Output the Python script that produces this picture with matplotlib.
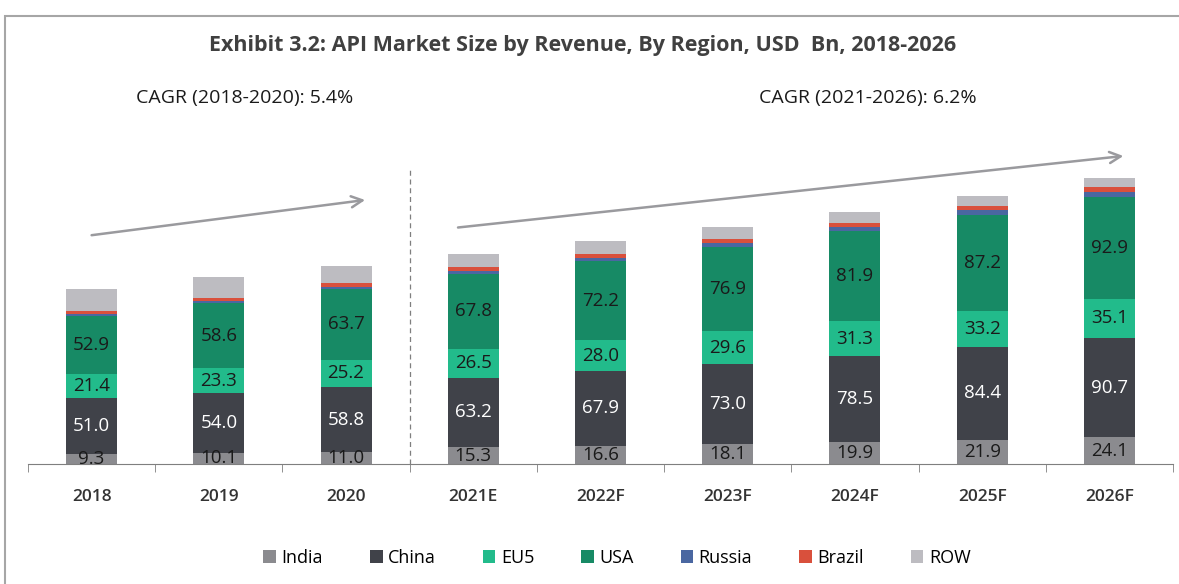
import matplotlib.pyplot as plt
import numpy as np
from matplotlib.patches import Rectangle

years = ["2018", "2019", "2020", "2021E", "2022F", "2023F", "2024F", "2025F", "2026F"]
india = [9.3, 10.1, 11.0, 15.3, 16.6, 18.1, 19.9, 21.9, 24.1]
china = [51.0, 54.0, 58.8, 63.2, 67.9, 73.0, 78.5, 84.4, 90.7]
eu5 = [21.4, 23.3, 25.2, 26.5, 28.0, 29.6, 31.3, 33.2, 35.1]
usa = [52.9, 58.6, 63.7, 67.8, 72.2, 76.9, 81.9, 87.2, 92.9]
russia = [1.8, 2.2, 2.5, 2.8, 3.0, 3.3, 3.5, 3.8, 4.1]
brazil = [2.4, 2.8, 3.6, 3.4, 3.6, 3.8, 4.1, 4.4, 4.7]
row = [20.5, 19.0, 15.5, 11.5, 11.2, 10.5, 9.5, 9.0, 8.5]

series = [("India", india, "#8b8b8f", "#1a1a1a"),
          ("China", china, "#404249", "white"),
          ("EU5", eu5, "#22bb8b", "#1a1a1a"),
          ("USA", usa, "#178a65", "#1a1a1a"),
          ("Russia", russia, "#4a67a1", None),
          ("Brazil", brazil, "#d9503c", None),
          ("ROW", row, "#bdbcc1", None)]

plt.rcParams["font.family"] = ["Open Sans", "DejaVu Sans"]

fig = plt.figure(figsize=(11.79, 5.84), dpi=100)
ax = fig.add_axes([28 / 1179, 120 / 584, 1145 / 1179, 363 / 584])

# outer frame
fig.patches.append(Rectangle((5 / 1179, -0.1), 1.2, (584 - 16) / 584 + 0.1,
                             transform=fig.transFigure, fill=False,
                             edgecolor="#a6a6a6", linewidth=1.5))

x = np.arange(len(years))
bottom = np.zeros(len(years))
for name, vals, color, txt in series:
    vals = np.array(vals)
    ax.bar(x, vals, width=0.4, bottom=bottom, color=color, label=name,
           edgecolor="none", zorder=2)
    if txt is not None:
        for xi, b, v in zip(x, bottom, vals):
            ax.text(xi, b + v / 2, f"{v:.1f}", ha="center", va="center",
                    fontsize=13.5, color=txt, zorder=4)
    bottom += vals

ax.set_xlim(-0.5, len(years) - 0.5)
ax.set_ylim(0, 330)
ax.set_yticks([])
for s in ["top", "right", "left"]:
    ax.spines[s].set_visible(False)
ax.spines["bottom"].set_color("#7f7f7f")
ax.spines["bottom"].set_zorder(3)
ax.set_xticks(x)
ax.set_xticklabels(years, fontsize=12.5, fontweight="semibold", color="#333333")
ax.tick_params(axis="x", which="major", length=0, pad=18)
ax.set_xticks(np.arange(-0.5, len(years)), minor=True)
ax.tick_params(axis="x", which="minor", length=6, color="#7f7f7f")

# period divider and trend arrows
ax.plot([2.5, 2.5], [0, 267], linestyle=(0, (4, 3)), color="#7f7f7f",
        linewidth=0.9, zorder=1)
arrow = dict(arrowstyle="->,head_length=0.8,head_width=0.4", color="#9a9a9e",
             linewidth=1.8, shrinkA=0, shrinkB=0)
ax.annotate("", xy=(2.15, 240), xytext=(0.0, 208), arrowprops=arrow)
ax.annotate("", xy=(8.11, 280), xytext=(2.88, 215), arrowprops=arrow)

fig.text(583 / 1179, 1 - 46 / 584,
         "Exhibit 3.2: API Market Size by Revenue, By Region, USD  Bn, 2018-2026",
         ha="center", va="center", fontsize=15.5,
         fontweight="bold", color="#404040")
fig.text(245 / 1179, 1 - 98 / 584, "CAGR (2018-2020): 5.4%", ha="center",
         va="center", fontsize=14, color="#1a1a1a")
fig.text(868 / 1179, 1 - 98 / 584, "CAGR (2021-2026): 6.2%", ha="center",
         va="center", fontsize=14, color="#1a1a1a")

fig.legend(loc="center", bbox_to_anchor=(617 / 1179, 1 - 558 / 584), ncol=7,
           frameon=False, fontsize=13, handlelength=0.7, handleheight=0.7,
           handletextpad=0.3, columnspacing=2.6)

plt.savefig("out.png", dpi=100)
